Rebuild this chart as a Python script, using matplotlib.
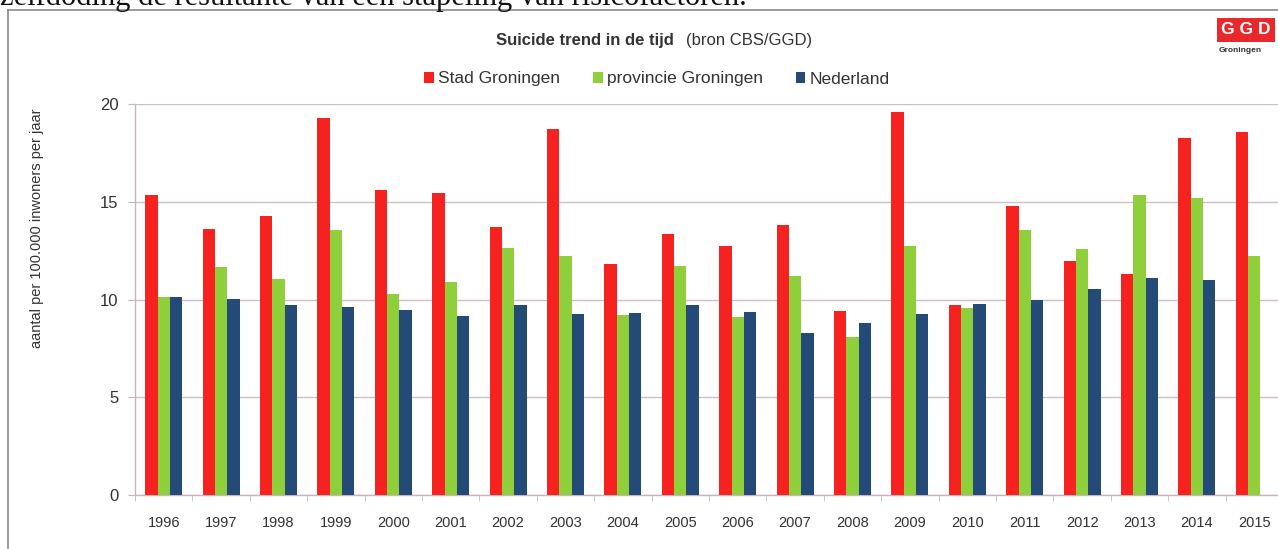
import numpy as np
import matplotlib
matplotlib.use("Agg")
import matplotlib.pyplot as plt
from matplotlib.lines import Line2D
from matplotlib.patches import Patch

years = ["1996", "1997", "1998", "1999", "2000", "2001", "2002", "2003", "2004", "2005",
         "2006", "2007", "2008", "2009", "2010", "2011", "2012", "2013", "2014", "2015"]
stad = [15.35, 13.6, 14.25, 19.3, 15.6, 15.45, 13.7, 18.7, 11.8, 13.35,
        12.75, 13.8, 9.4, 19.6, 9.7, 14.8, 11.95, 11.3, 18.25, 18.55]
provincie = [10.15, 11.65, 11.05, 13.55, 10.3, 10.9, 12.65, 12.25, 9.2, 11.7,
             9.1, 11.2, 8.1, 12.75, 9.55, 13.55, 12.6, 15.35, 15.2, 12.25]
nederland = [10.15, 10.05, 9.7, 9.6, 9.45, 9.15, 9.7, 9.25, 9.3, 9.7,
             9.35, 8.3, 8.8, 9.25, 9.75, 10.0, 10.55, 11.1, 11.0, np.nan]
series_names = ["Stad Groningen", "provincie Groningen", "Nederland"]
colors = ["#f5221f", "#8fcf3c", "#244a78"]
yticks = [0, 5, 10, 15, 20]

W, H = 1278, 549
fig = plt.figure(figsize=(W / 100, H / 100), dpi=100)
fig.patch.set_facecolor("white")

fam = ["Liberation Sans", "DejaVu Sans"]

# axes placement (pixel based)
x_left, x_right = 135, 1283
y_top, y_bot = 104, 495
ax = fig.add_axes([x_left / W, 1 - y_bot / H, (x_right - x_left) / W, (y_bot - y_top) / H])
ax.set_facecolor("none")

x = np.arange(len(years))
bw = 0.215
for i, (vals, c, name) in enumerate(zip([stad, provincie, nederland], colors, series_names)):
    ax.bar(x + (i - 1) * bw, vals, width=bw, color=c, label=name, zorder=3)

ax.set_xlim(-0.5, len(years) - 0.5)
ax.set_ylim(0, 20)
ax.set_yticks(yticks)
ax.set_yticklabels([str(t) for t in yticks], fontsize=12, color="#333333", family=fam)
ax.set_xticks(x)
ax.set_xticklabels(years, fontsize=10.5, color="#333333", family=fam)
ax.tick_params(axis="x", length=0, pad=15)
ax.set_xticks(np.arange(-0.5, len(years), 1.0), minor=True)
ax.tick_params(axis="x", which="minor", length=4, color="#c9b5bd", direction="out")
ax.tick_params(axis="y", length=5, color="#c9b5bd", pad=7, direction="out")
ax.yaxis.grid(True, color="#cdbfc6", linewidth=1.0, zorder=0)
ax.set_axisbelow(True)
for s in ["top", "right"]:
    ax.spines[s].set_visible(False)
for s in ["left", "bottom"]:
    ax.spines[s].set_color("#c9b5bd")
    ax.spines[s].set_linewidth(1.0)

ax.set_ylabel("aantal per 100.000 inwoners per jaar", fontsize=10.5, color="#333333",
              family=fam)
ax.yaxis.set_label_coords(-(x_left - 37) / (x_right - x_left), (y_bot - 228) / (y_bot - y_top))
ax.yaxis.label.set_va("center")

# title (bold part + regular part)
fig.text(674 / W, 1 - 40 / H, "Suicide trend in de tijd", ha="right", va="center",
         fontsize=12, fontweight="bold", color="#333333", family=fam)
fig.text(686 / W, 1 - 40 / H, "(bron CBS/GGD)", ha="left", va="center",
         fontsize=12, color="#333333", family=fam)

# legend
handles = [Patch(facecolor=c, edgecolor="none") for c in colors]
leg = fig.legend(handles, series_names, loc="center", bbox_to_anchor=(657 / W, 1 - 79 / H),
                 ncol=3, frameon=False, handlelength=0.55, handleheight=0.55,
                 handletextpad=0.25, columnspacing=1.9, prop={"family": fam, "size": 12.5})
for t in leg.get_texts():
    t.set_color("#333333")

# outer frame of scanned figure
fig.add_artist(Line2D([8 / W, 1.0], [1 - 10 / H, 1 - 10 / H], transform=fig.transFigure,
                      color="#8a8a8a", linewidth=1.2))
fig.add_artist(Line2D([8 / W, 8 / W], [0, 1 - 10 / H], transform=fig.transFigure,
                      color="#8a8a8a", linewidth=1.2))

# cut-off text line from the page above
fig.text(0.0, 1 - 5 / H, "zelfdoding de resultante van een stapeling van risicofactoren.",
         ha="left", va="baseline", fontsize=22, family="Liberation Serif", color="#111111")

# GGD logo
fig.text(1221 / W, 1 - 30 / H, "G G D", ha="left", va="center", fontsize=12.5, fontweight="bold",
         color="white", family=fam,
         bbox=dict(boxstyle="square,pad=0.25", facecolor="#e8282b", edgecolor="none"))
fig.text(1219 / W, 1 - 51 / H, "Groningen", ha="left", va="center", fontsize=6,
         fontweight="bold", color="#333333", family=fam)

fig.savefig("out.png", dpi=100, facecolor="white")
